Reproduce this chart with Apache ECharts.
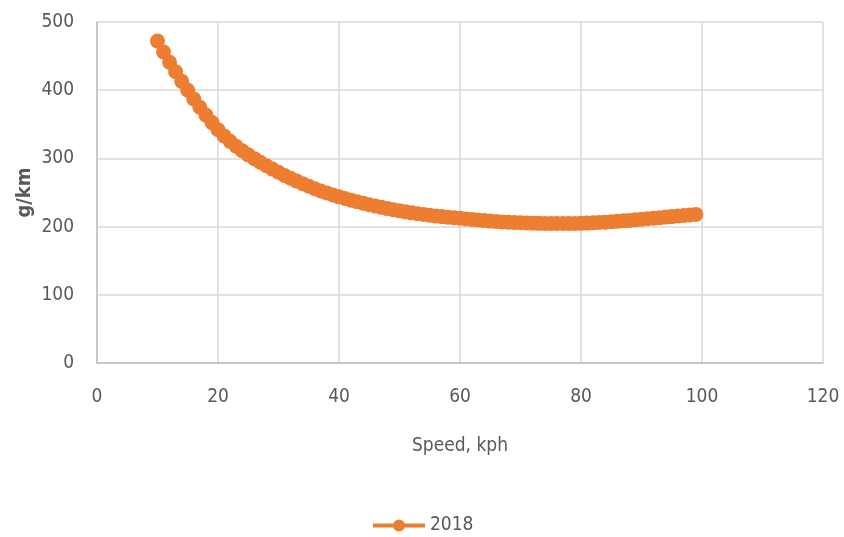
<!DOCTYPE html>
<html><head><meta charset="utf-8">
<script src="https://cdn.jsdelivr.net/npm/echarts@6/dist/echarts.min.js"></script>
<style>html,body{margin:0;padding:0;background:#fff}#c{width:844px;height:537px}</style>
</head><body><div id="c"></div>
<script>
const speeds = [10,11,12,13,14,15,16,17,18,19,20,21,22,23,24,25,26,27,28,29,30,31,32,33,34,35,36,37,38,39,40,41,42,43,44,45,46,47,48,49,50,51,52,53,54,55,56,57,58,59,60,61,62,63,64,65,66,67,68,69,70,71,72,73,74,75,76,77,78,79,80,81,82,83,84,85,86,87,88,89,90,91,92,93,94,95,96,97,98,99];
const gPerKm2018 = [472,456,441,427,413,400,387,375,363.5,352.5,342,333,325,317.8,311.2,305.2,299.6,294.3,289.2,284.3,279.6,275.1,270.8,266.7,262.8,259.1,255.6,252.3,249.2,246.3,243.6,241.1,238.7,236.4,234.2,232.1,230.1,228.2,226.4,224.7,223.1,221.6,220.2,218.9,217.7,216.6,215.6,214.7,213.8,213.0,212.2,211.3,210.4,209.6,208.8,208.1,207.5,206.9,206.4,206.0,205.6,205.3,205.0,204.8,204.7,204.6,204.5,204.5,204.5,204.6,204.8,205.1,205.5,206.0,206.5,207.1,207.7,208.4,209.1,209.9,210.7,211.5,212.3,213.1,213.9,214.7,215.5,216.3,217.1,217.9];
const seriesName = '2018';
const xAxisTitle = 'Speed, kph';
const yAxisTitle = 'g/km';

const font = '"DejaVu Sans Condensed","Liberation Sans",sans-serif';
const chart = echarts.init(document.getElementById('c'), null, {renderer:'canvas'});
chart.setOption({
  animation:false,
  grid:{left:97, right:21, top:22, bottom:174, containLabel:false},
  xAxis:{type:'value', min:0, max:120, interval:20,
    name:xAxisTitle, nameLocation:'middle', nameGap:74, nameMoveOverlap:false,
    nameTextStyle:{fontFamily:font, fontSize:19, color:'#595959'},
    axisLine:{lineStyle:{color:'#bfbfbf', width:1.5}},
    axisTick:{show:false},
    axisLabel:{fontFamily:font, fontSize:19, color:'#595959', margin:25},
    splitLine:{lineStyle:{color:'#d9d9d9', width:1.5}}},
  yAxis:{type:'value', min:0, max:500, interval:100,
    name:yAxisTitle, nameLocation:'middle', nameGap:62, nameRotate:90, nameMoveOverlap:false,
    nameTextStyle:{fontFamily:font, fontSize:20, fontWeight:'bold', color:'#595959'},
    axisLine:{show:true, lineStyle:{color:'#bfbfbf', width:1.5}},
    axisTick:{show:false},
    axisLabel:{fontFamily:font, fontSize:19, color:'#595959', margin:23},
    splitLine:{lineStyle:{color:'#d9d9d9', width:1.5}}},
  legend:{top:511, left:366, itemWidth:52, itemHeight:15, itemGap:6,
    lineStyle:{width:4},
    textStyle:{fontFamily:font, fontSize:19, color:'#595959'},
    data:[seriesName]},
  series:[{name:seriesName, type:'line',
    data:speeds.map((s,i)=>[s,gPerKm2018[i]]),
    symbol:'circle', symbolSize:15, showAllSymbol:true,
    lineStyle:{color:'#ED7D31', width:4},
    itemStyle:{color:'#ED7D31'}}]
});
</script></body></html>
